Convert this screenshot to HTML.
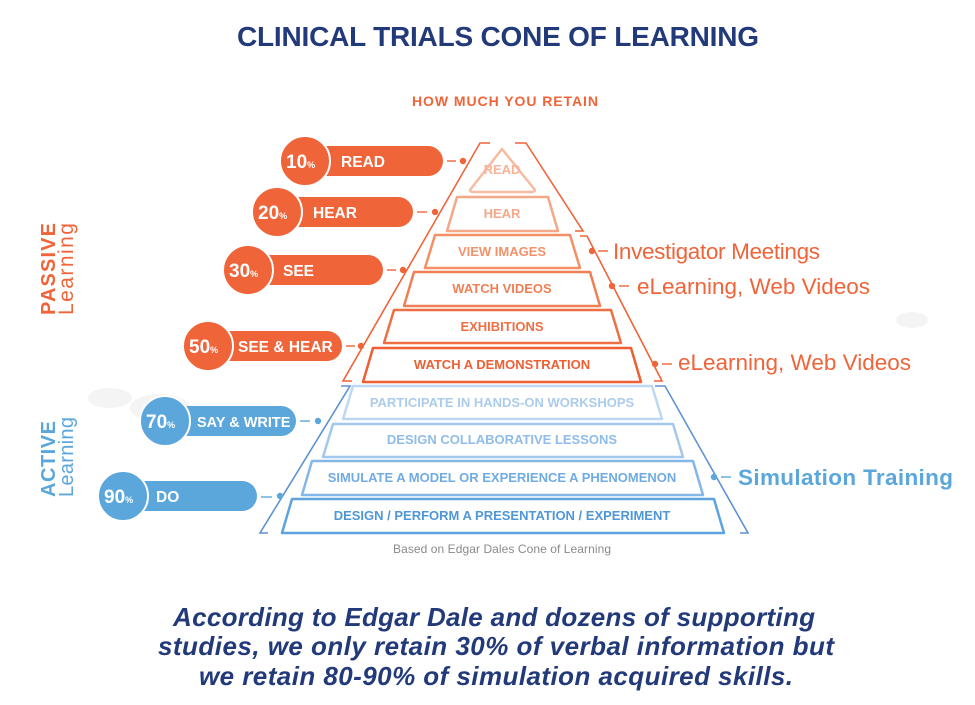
<!DOCTYPE html>
<html><head><meta charset="utf-8"><style>
html,body{margin:0;padding:0;background:#fff;}
svg{display:block;font-family:"Liberation Sans",sans-serif;}
.t{font-weight:bold;font-size:13px;text-anchor:middle;}
.p{font-weight:bold;font-size:15.5px;fill:#fff;}
</style></head><body>
<svg width="975" height="705" viewBox="0 0 975 705" xmlns="http://www.w3.org/2000/svg">
<g fill="#f4f4f4">
<ellipse cx="110" cy="398" rx="22" ry="10"/><ellipse cx="160" cy="408" rx="30" ry="14"/>
<ellipse cx="912" cy="320" rx="16" ry="8"/>
</g>
<text x="498" y="46" text-anchor="middle" font-size="28" font-weight="bold" fill="#233a7a" textLength="522">CLINICAL TRIALS CONE OF LEARNING</text>
<text x="505" y="106" text-anchor="middle" font-size="14" font-weight="bold" fill="#f0643a" textLength="186">HOW MUCH YOU RETAIN</text>

<g fill="none" stroke-width="1.6">
<polyline points="490,143 480,143 343,381 352,381" stroke="#f0643a"/>
<polyline points="341,386 350,386 260,533 268,533" stroke="#5e92d4"/>
<polyline points="515,143 526,143 583,231 575,231" stroke="#f0643a"/>
<polyline points="580,236 587,236 662,381 654,381" stroke="#f0643a"/>
<polyline points="655,386 665,386 748,533 740,533" stroke="#5e92d4"/>
</g>

<g stroke-width="2.5" stroke-linejoin="round" fill="#fff">
<path d="M502,149 L535,190 Q535,192 530,192 L474,192 Q470,192 470,190 Z" stroke="#f7bba2"/>
<path d="M457,197 L548,197 L558,231 L447,231 Z" stroke="#f5a888"/>
<path d="M435,235 L570,235 L580,268 L425,268 Z" stroke="#f39066"/>
<path d="M414,272 L590,272 L600,306 L404,306 Z" stroke="#f07f55"/>
<path d="M394,310 L611,310 L621,343 L384,343 Z" stroke="#ef6f45"/>
<path d="M373,348 L631,348 L641,382 L363,382 Z" stroke="#ee5f33"/>
<path d="M353,386 L652,386 L662,419 L343,419 Z" stroke="#bcd8f2"/>
<path d="M333,424 L673,424 L683,457 L323,457 Z" stroke="#a3c8ee"/>
<path d="M312,461 L693,461 L703,495 L302,495 Z" stroke="#82b7e7"/>
<path d="M292,499 L714,499 L724,533 L282,533 Z" stroke="#5ea2de"/>
</g>
<text class="t" x="502" y="174" fill="#f7b397" font-size="11.5">READ</text>
<text class="t" x="502" y="218" fill="#f5a888">HEAR</text>
<text class="t" x="502" y="256" fill="#f3926a">VIEW IMAGES</text>
<text class="t" x="502" y="293" fill="#f07f55">WATCH VIDEOS</text>
<text class="t" x="502" y="331" fill="#ef6f45">EXHIBITIONS</text>
<text class="t" x="502" y="369" fill="#ee5f33">WATCH A DEMONSTRATION</text>
<text class="t" x="502" y="407" fill="#acccec">PARTICIPATE IN HANDS-ON WORKSHOPS</text>
<text class="t" x="502" y="444" fill="#90bce9">DESIGN COLLABORATIVE LESSONS</text>
<text class="t" x="502" y="482" fill="#70ace3">SIMULATE A MODEL OR EXPERIENCE A PHENOMENON</text>
<text class="t" x="502" y="520" fill="#4f97d9">DESIGN / PERFORM A PRESENTATION / EXPERIMENT</text>

<g fill="#f0643a">
<rect x="305" y="146" width="138" height="30" rx="15"/><circle cx="305" cy="161" r="25" stroke="#fff" stroke-width="2"/>
<rect x="277" y="197" width="136" height="30" rx="15"/><circle cx="277" cy="212" r="25" stroke="#fff" stroke-width="2"/>
<rect x="248" y="255" width="135" height="30" rx="15"/><circle cx="248" cy="270" r="25" stroke="#fff" stroke-width="2"/>
<rect x="208" y="331" width="134" height="30" rx="15"/><circle cx="208" cy="346" r="25" stroke="#fff" stroke-width="2"/>
</g>
<g fill="#5ba7dc">
<rect x="165" y="406" width="131" height="30" rx="15"/><circle cx="165" cy="421" r="25" stroke="#fff" stroke-width="2"/>
<rect x="123" y="481" width="134" height="30" rx="15"/><circle cx="123" cy="496" r="25" stroke="#fff" stroke-width="2"/>
</g>
<g class="p">
<text x="286" y="168" font-size="19">10<tspan font-size="9">%</tspan></text><text x="341" y="167">READ</text>
<text x="258" y="219" font-size="19">20<tspan font-size="9">%</tspan></text><text x="313" y="218">HEAR</text>
<text x="229" y="277" font-size="19">30<tspan font-size="9">%</tspan></text><text x="283" y="276">SEE</text>
<text x="189" y="353" font-size="19">50<tspan font-size="9">%</tspan></text><text x="238" y="352">SEE &amp; HEAR</text>
<text x="146" y="428" font-size="19">70<tspan font-size="9">%</tspan></text><text x="197" y="427" font-size="14.5">SAY &amp; WRITE</text>
<text x="104" y="503" font-size="19">90<tspan font-size="9">%</tspan></text><text x="156" y="502">DO</text>
</g>
<g stroke-width="1.4">
<g stroke="#f0643a" fill="#f0643a">
<line x1="447" y1="161" x2="456" y2="161"/><circle cx="463" cy="161" r="2.5"/>
<line x1="417" y1="212" x2="427" y2="212"/><circle cx="435" cy="212" r="2.5"/>
<line x1="387" y1="270" x2="396" y2="270"/><circle cx="403" cy="270" r="2.5"/>
<line x1="346" y1="346" x2="355" y2="346"/><circle cx="361" cy="346" r="2.5"/>
<circle cx="592" cy="251" r="2.5"/><line x1="598" y1="251" x2="608" y2="251"/>
<circle cx="612" cy="286" r="2.5"/><line x1="619" y1="286" x2="629" y2="286"/>
<circle cx="655" cy="364" r="2.5"/><line x1="662" y1="364" x2="672" y2="364"/>
</g>
<g stroke="#5ba7dc" fill="#5ba7dc">
<line x1="300" y1="421" x2="310" y2="421"/><circle cx="318" cy="421" r="2.5"/>
<line x1="261" y1="497" x2="272" y2="497"/><circle cx="280" cy="496" r="2.5"/>
<circle cx="714" cy="477" r="2.5"/><line x1="721" y1="477" x2="731" y2="477"/>
</g>
</g>
<text x="613" y="259" font-size="22.5" fill="#f0643a" textLength="207">Investigator Meetings</text>
<text x="637" y="294" font-size="22.5" fill="#f0643a" textLength="233">eLearning, Web Videos</text>
<text x="678" y="370" font-size="22.5" fill="#f0643a" textLength="233">eLearning, Web Videos</text>
<text x="738" y="485" font-size="22.5" font-weight="bold" fill="#5ba7dc" textLength="215">Simulation Training</text>

<g transform="translate(55,315) rotate(-90)"><text font-size="20" font-weight="bold" fill="#f0643a" textLength="92">PASSIVE</text></g>
<g transform="translate(73,315) rotate(-90)"><text font-size="21" fill="#f0643a" textLength="92">Learning</text></g>
<g transform="translate(55,497) rotate(-90)"><text font-size="20" font-weight="bold" fill="#5ba7dc" textLength="76">ACTIVE</text></g>
<g transform="translate(73,497) rotate(-90)"><text font-size="20" fill="#5ba7dc" textLength="80">Learning</text></g>

<text x="502" y="553" text-anchor="middle" font-size="12" fill="#8a8a8a" textLength="218">Based on Edgar Dales Cone of Learning</text>

<g font-size="26" font-weight="bold" font-style="italic" fill="#233a7a" text-anchor="middle">
<text x="494" y="626" textLength="642">According to Edgar Dale and dozens of supporting</text>
<text x="496" y="655" textLength="676">studies, we only retain 30% of verbal information but</text>
<text x="496" y="685" textLength="594">we retain 80-90% of simulation acquired skills.</text>
</g>
</svg>
</body></html>
